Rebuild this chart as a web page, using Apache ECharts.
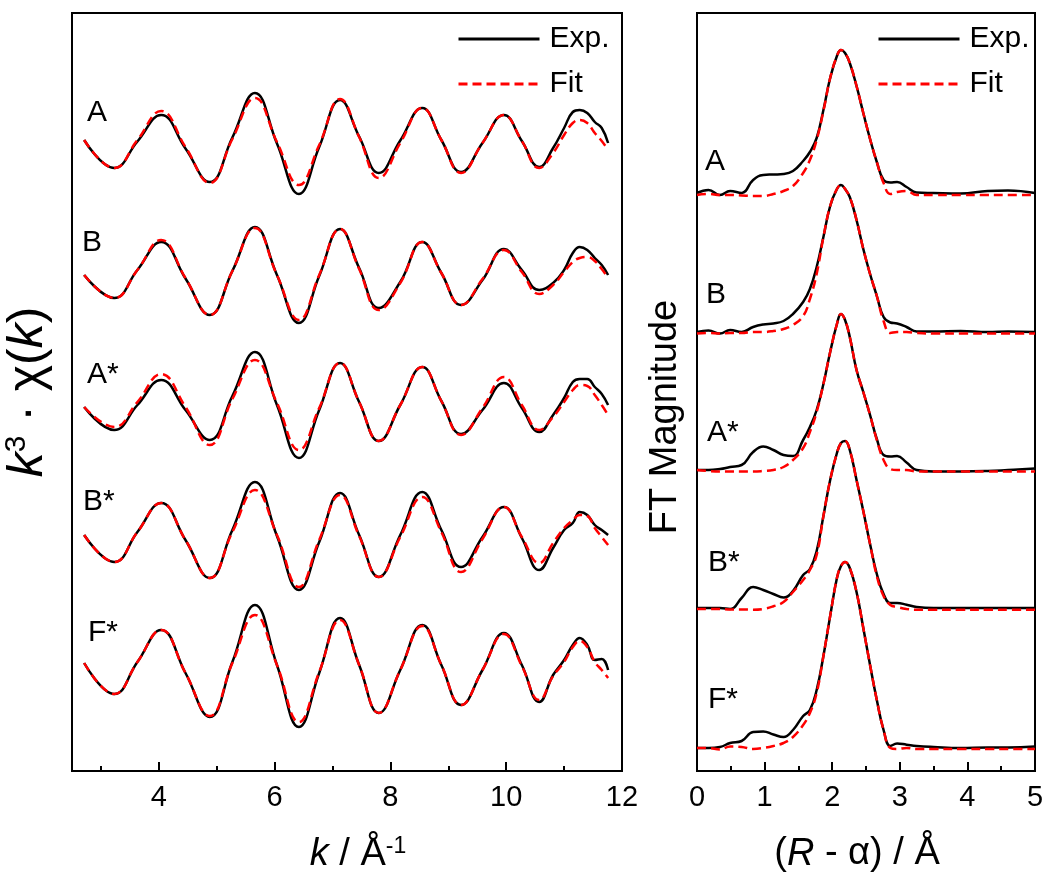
<!DOCTYPE html>
<html><head><meta charset="utf-8">
<script src="https://cdn.jsdelivr.net/npm/echarts@6/dist/echarts.min.js"></script>
<style>html,body{margin:0;padding:0;background:#fff}#c{width:1050px;height:878px}</style>
</head><body><div id="c"></div>
<script>
// ---------- left panel: k^3 chi(k) ----------
const kGrid = [2.71, 3.23, 3.63, 4.04, 4.46, 4.88, 5.27, 5.66, 6.04, 6.42, 6.77, 7.13, 7.46, 7.80, 8.17, 8.55, 8.88, 9.22, 9.59, 9.96, 10.27, 10.57, 10.81, 11.0, 11.15, 11.27, 11.4, 11.53, 11.65, 11.76];
const chiExpA  = [0.3, -2.5, 0.15, 2.8, -0.55, -3.9, 0.55, 5.0, -0.05, -5.1, -0.4, 4.3, 0.65, -3.0, 0.25, 3.5, 0.3, -2.9, 0.0, 2.8, 0.2, -2.4, -0.5, 1.5, 3.1, 3.3, 3.0, 2.1, 1.5, 0.0];
const chiFitA  = [0.3, -2.5, 0.3, 3.2, -0.4, -4.0, 0.4, 4.5, 0.1, -4.2, -0.2, 4.4, 0.6, -3.5, 0.0, 3.5, 0.3, -3.0, 0.0, 2.8, 0.2, -2.5, -1.0, 0.8, 2.0, 2.3, 2.0, 1.0, 0.2, -0.7];
const chiExpB  = [0, -2.3, 0.5, 3.3, -0.35, -4.0, 0.4, 4.8, 0, -4.8, -0.1, 4.6, 0.7, -3.3, -0.7, 3.3, 0.2, -3.0, -0.5, 2.6, 0.5, -1.5, -0.8, 0.5, 2.2, 2.8, 2.5, 1.7, 1.0, 0.0];
const chiFitB  = [0, -2.3, 0.5, 3.5, -0.3, -4.0, 0.4, 4.7, 0, -4.5, 0, 4.6, 0.6, -3.5, -0.8, 3.3, 0.2, -3.0, -0.4, 2.5, 0.3, -1.9, -1.0, 0.3, 1.3, 1.7, 1.8, 1.4, 0.6, -0.3];
const chiExpAs = [-0.2, -2.5, 0, 2.5, -0.5, -3.5, 0.9, 5.3, 0, -5.3, -0.5, 4.2, 0.3, -3.6, 0, 3.8, 0.4, -2.9, -0.5, 2.2, -0.3, -2.7, -1.0, 0.7, 2.3, 2.6, 2.6, 1.8, 1.1, 0];
const chiFitAs = [-0.2, -2.2, 0.3, 3.1, -0.2, -4.0, 0.6, 4.5, 0.2, -4.5, -0.3, 4.2, 0.3, -3.6, 0, 3.8, 0.4, -3.0, -0.3, 2.8, 0, -2.5, -1.2, 0.3, 1.5, 2.0, 1.9, 1.0, 0.0, -1.0];
const chiExpBs = [0.5, -2.2, 0.8, 3.7, 0, -3.8, 1.0, 5.8, 0.4, -5.0, -0.2, 4.7, 0.5, -3.7, 0.5, 4.8, 1.0, -2.7, 0.3, 3.3, 0.2, -3.0, -0.8, 1.0, 1.7, 2.8, 2.5, 1.5, 1.0, 0.5];
const chiFitBs = [0.5, -2.2, 0.8, 3.7, 0, -3.8, 0.8, 5.0, 0.5, -4.7, 0, 4.5, 0.4, -3.7, 0.3, 4.3, 0.8, -3.2, 0.1, 3.3, 0.3, -2.3, -0.3, 1.2, 2.0, 2.5, 2.4, 1.2, 0.3, -0.5];
const chiExpFs = [0.7, -2.4, 0.8, 4.0, -0.3, -4.7, 0.8, 6.5, 0.5, -5.7, -0.3, 5.2, 0.5, -4.3, 0, 4.5, 0.5, -3.5, 0, 3.7, 0.5, -3.2, -0.5, 1.0, 2.5, 3.2, 2.5, 1.0, 1.1, 0];
const chiFitFs = [0.7, -2.4, 0.8, 4.0, -0.3, -4.6, 0.7, 5.5, 0.5, -5.2, -0.2, 5.0, 0.5, -4.3, 0, 4.4, 0.5, -3.5, 0, 3.6, 0.4, -3.0, -0.6, 0.8, 2.3, 2.9, 2.3, 0.8, 0.0, -0.8];
const kOffsets = [52.7, 39.5, 26.5, 13, 0];

// ---------- right panel: FT magnitude ----------
const rGrid = [0, 0.17, 0.34, 0.49, 0.66, 0.83, 0.98, 1.13, 1.28, 1.42, 1.57, 1.67, 1.77, 1.87, 1.97, 2.07, 2.13, 2.19, 2.26, 2.36, 2.46, 2.56, 2.66, 2.76, 2.86, 2.96, 3.1, 3.25, 3.5, 3.9, 4.3, 4.6, 5.0];
const ftExpA  = [0.0, 0.3, -0.2, 0.2, 0.0, 1.3, 1.8, 1.85, 1.9, 2.2, 3.2, 4.1, 5.5, 8.3, 11.5, 13.7, 14.3, 14.0, 13.0, 10.7, 8.0, 5.4, 3.1, 1.3, 1.05, 1.1, 0.6, 0.05, 0.0, -0.05, 0.2, 0.25, 0.0];
const ftFitA  = [-0.2, -0.1, -0.2, -0.2, -0.25, -0.3, -0.3, -0.1, 0.2, 0.7, 2.0, 3.3, 5.3, 8.2, 11.5, 13.7, 14.3, 14.0, 13.0, 10.7, 8.0, 5.4, 3.1, 1.0, -0.1, 0.1, 0.2, -0.2, -0.2, -0.2, -0.2, -0.2, -0.2];
const ftExpB  = [0, 0.15, -0.15, 0.2, 0.0, 0.5, 0.75, 0.85, 1.1, 1.8, 3.0, 4.3, 6.5, 9.5, 12.6, 14.3, 14.7, 14.3, 13.5, 11.2, 8.3, 5.8, 3.6, 1.5, 0.95, 0.85, 0.5, 0.05, 0.05, 0.1, 0.0, 0.05, 0.0];
const ftFitB  = [-0.15, -0.1, -0.15, -0.1, -0.1, 0.0, 0.0, 0.1, 0.3, 0.7, 1.6, 3.3, 5.8, 9.5, 12.6, 14.3, 14.7, 14.3, 13.5, 11.2, 8.3, 5.8, 3.6, 1.1, -0.1, 0.0, 0.0, -0.1, -0.15, -0.15, -0.15, -0.15, -0.15];
const ftExpAs = [0, 0.0, 0.1, 0.3, 0.5, 1.8, 2.35, 2.0, 1.5, 1.4, 3.0, 4.3, 6.0, 8.6, 11.8, 14.6, 15.6, 15.0, 13.3, 10.0, 7.8, 5.5, 3.1, 1.5, 1.35, 1.4, 0.75, 0.0, -0.15, -0.15, -0.1, 0.0, 0.15];
const ftFitAs = [0, -0.1, -0.15, -0.15, -0.15, -0.15, -0.1, 0.0, 0.3, 1.0, 2.2, 3.8, 5.8, 8.6, 11.8, 14.6, 15.6, 15.0, 13.3, 10.0, 7.8, 5.5, 3.0, 1.0, 0.1, 0.0, 0.0, -0.15, -0.15, -0.15, -0.15, -0.15, -0.15];
const ftExpBs = [0, 0, 0, -0.1, 1.0, 2.1, 1.8, 1.4, 1.05, 1.7, 3.3, 3.9, 5.7, 9.2, 12.8, 15.5, 16.5, 16.7, 15.8, 12.8, 9.7, 6.4, 3.4, 1.4, 0.5, 0.5, 0.33, 0.1, 0, 0, 0, 0, 0];
const ftFitBs = [-0.1, -0.1, -0.1, -0.15, -0.15, -0.17, -0.1, 0.17, 0.6, 1.6, 2.8, 3.8, 5.3, 9.2, 12.8, 15.5, 16.5, 16.7, 15.8, 12.8, 9.7, 6.4, 3.2, 1.2, 0.3, 0.1, -0.1, -0.17, -0.17, -0.17, -0.17, -0.17, -0.17];
const ftExpFs = [0, 0, 0.1, 0.5, 0.7, 1.6, 1.65, 1.35, 1.1, 1.8, 3.2, 3.8, 5.8, 9.2, 13.2, 17.0, 18.2, 18.6, 18.0, 15.6, 12.0, 8.3, 4.8, 1.8, 0.2, 0.45, 0.33, 0.2, 0.1, 0, 0.05, 0.05, 0.15];
const ftFitFs = [0, 0.0, -0.15, 0.15, 0.1, -0.1, 0.0, 0.2, 0.5, 1.1, 2.3, 3.5, 5.5, 9.2, 13.2, 17.0, 18.2, 18.6, 18.0, 15.6, 12.0, 8.3, 4.8, 1.8, 0.0, -0.1, 0.0, -0.1, -0.1, -0.1, -0.1, -0.1, -0.1];
const rOffsets = [55.5, 41.6, 27.8, 14, 0];

const sampleNames = ['A', 'B', 'A*', 'B*', 'F*'];
const xTickK = [4, 6, 8, 10, 12];
const xTickR = [0, 1, 2, 3, 4, 5];

const chiExp = [chiExpA, chiExpB, chiExpAs, chiExpBs, chiExpFs];
const chiFit = [chiFitA, chiFitB, chiFitAs, chiFitBs, chiFitFs];
const ftExp = [ftExpA, ftExpB, ftExpAs, ftExpBs, ftExpFs];
const ftFit = [ftFitA, ftFitB, ftFitAs, ftFitBs, ftFitFs];

const FONT = '"Liberation Sans", Arial, sans-serif';
const BLACK = '#000000';
const RED = '#ff0000';

function mk(name, xs, ys, off, xi, isFit) {
  return {
    name: name, type: 'line', xAxisIndex: xi, yAxisIndex: xi,
    data: xs.map((x, j) => [x, ys[j] + off]),
    showSymbol: false, symbol: 'none', smooth: 0.45, silent: true,
    z: isFit ? 3 : 2,
    color: isFit ? RED : BLACK,
    lineStyle: { color: isFit ? RED : BLACK, width: 2.5, type: isFit ? [9, 5] : 'solid' },
    animation: false
  };
}
const series = [];
for (let i = 0; i < 5; i++) {
  series.push(mk('Exp.', kGrid, chiExp[i], kOffsets[i], 0, false));
  series.push(mk('Fit', kGrid, chiFit[i], kOffsets[i], 0, true));
  series.push(mk('Exp.', rGrid, ftExp[i], rOffsets[i], 1, false));
  series.push(mk('Fit', rGrid, ftFit[i], rOffsets[i], 1, true));
}

const TF = 38;
const axisCommon = {
  type: 'value',
  axisLine: { show: true, onZero: false, lineStyle: { color: BLACK, width: 2 } },
  axisTick: { show: true, inside: true, length: 9, lineStyle: { color: BLACK, width: 2 } },
  minorTick: { show: true, splitNumber: 2, length: 5, lineStyle: { color: BLACK, width: 2 } },
  splitLine: { show: false }, minorSplitLine: { show: false },
  axisLabel: { color: BLACK, fontSize: 29, fontFamily: FONT, margin: 12 },
  nameLocation: 'middle',
  nameGap: 64
};
function titleStyle(pad) {
  return {
    color: BLACK, fontFamily: FONT, fontSize: TF, padding: pad,
    rich: {
      i: { fontStyle: 'italic', fontSize: TF, fontFamily: FONT, color: BLACK },
      n: { fontSize: TF, fontFamily: FONT, color: BLACK },
      s: { fontSize: 23, fontFamily: FONT, color: BLACK, verticalAlign: 'top', padding: [0, 0, 16, 0] }
    }
  };
}

function legendItem(name, left, top) {
  return {
    data: [name], left: left, top: top, padding: 0, orient: 'vertical',
    itemWidth: 81, itemHeight: 14, selectedMode: false,
    itemStyle: { opacity: 0, borderWidth: 0 },
    lineStyle: { width: 3 },
    textStyle: { color: BLACK, fontSize: 30, fontFamily: FONT, padding: [0, 0, 0, 5] }
  };
}

function label(t, x, y) {
  return { type: 'text', x: x, y: y, silent: true,
    style: { text: t, fill: BLACK, font: '30px ' + FONT, verticalAlign: 'middle', align: 'left' } };
}
const leftLabelPos = [[87, 113], [82, 243], [87, 375], [83, 502], [88, 633]];
const rightLabelPos = [[705, 162], [706, 295], [707, 433], [708, 563], [708, 700]];
const graphics = [];
sampleNames.forEach((n, i) => {
  graphics.push(label(n, leftLabelPos[i][0], leftLabelPos[i][1]));
  graphics.push(label(n, rightLabelPos[i][0], rightLabelPos[i][1]));
});

const option = {
  animation: false,
  backgroundColor: '#ffffff',
  grid: [
    { left: 72, top: 13, width: 550, height: 758, show: true, borderColor: BLACK, borderWidth: 2, backgroundColor: 'transparent', containLabel: false, outerBoundsMode: 'none' },
    { left: 697, top: 13, width: 338, height: 758, show: true, borderColor: BLACK, borderWidth: 2, backgroundColor: 'transparent', containLabel: false, outerBoundsMode: 'none' }
  ],
  xAxis: [
    Object.assign({}, axisCommon, {
      gridIndex: 0, min: 2.5, max: 12, splitNumber: 5,
      axisLabel: Object.assign({}, axisCommon.axisLabel, { showMinLabel: false,
        formatter: v => (xTickK.indexOf(v) >= 0 ? String(v) : '') }),
      name: '{i|k}{n| / Å}{s|-1}', nameTextStyle: titleStyle([0, 0, 0, 22])
    }),
    Object.assign({}, axisCommon, {
      gridIndex: 1, min: 0, max: 5, interval: 1,
      axisLabel: Object.assign({}, axisCommon.axisLabel, {
        formatter: v => (xTickR.indexOf(v) >= 0 ? String(v) : '') }),
      name: '{n|(}{i|R}{n| - α) / Å}', nameTextStyle: titleStyle([0, 18, 0, 0])
    })
  ],
  yAxis: [
    { gridIndex: 0, type: 'value', min: -10.1, max: 65.7,
      axisLine: { show: false }, axisTick: { show: false }, axisLabel: { show: false }, splitLine: { show: false },
      name: '{i|k}{s|3}{n| · χ(}{i|k}{n|)}', nameLocation: 'middle', nameRotate: 90, nameGap: 18,
      nameTextStyle: { color: BLACK, fontFamily: FONT, fontSize: 50,
        rich: {
          i: { fontStyle: 'italic', fontSize: 50, fontFamily: FONT, color: BLACK },
          n: { fontSize: 50, fontFamily: FONT, color: BLACK },
          s: { fontSize: 30, fontFamily: FONT, color: BLACK, verticalAlign: 'top', padding: [0, 0, 22, 0] }
        } } },
    { gridIndex: 1, type: 'value', min: -2.3, max: 73.5,
      axisLine: { show: false }, axisTick: { show: false }, axisLabel: { show: false }, splitLine: { show: false },
      name: 'FT Magnitude', nameLocation: 'middle', nameRotate: 90, nameGap: 12,
      nameTextStyle: { color: BLACK, fontFamily: FONT, fontSize: 38, padding: [0, 50, 0, 0] } }
  ],
  legend: [
    legendItem('Exp.', 457, 24),
    legendItem('Fit', 457, 69),
    legendItem('Exp.', 877, 24),
    legendItem('Fit', 877, 69)
  ],
  graphic: graphics,
  series: series
};

const chart = echarts.init(document.getElementById('c'), null, { renderer: 'canvas' });
chart.setOption(option);
</script>
</body></html>
